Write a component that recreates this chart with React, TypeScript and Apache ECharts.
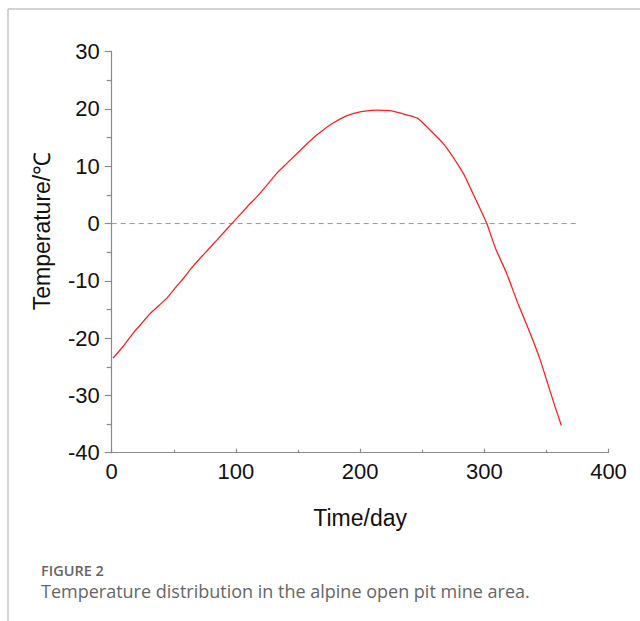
import React, { useEffect, useRef } from "react";
import * as echarts from "echarts";

const days = [1, 9, 17, 23, 31, 44, 52, 58, 63, 71, 77, 85, 98, 109, 117, 125, 133, 141, 152, 162, 170, 178, 189, 200, 213, 224, 232, 246, 256, 268, 283, 289, 297, 302, 309, 318, 327, 337, 345, 351, 357, 362];
const temps = [-23.5, -21.5, -19.2, -17.7, -15.7, -13.1, -11.0, -9.5, -8.1, -6.1, -4.7, -2.8, 0.3, 2.9, 4.7, 6.7, 8.8, 10.5, 12.8, 14.9, 16.3, 17.5, 18.8, 19.5, 19.8, 19.7, 19.3, 18.4, 16.4, 13.7, 8.8, 6.1, 2.4, 0.0, -4.3, -8.7, -13.9, -19.2, -23.8, -27.9, -32.0, -35.2];
const zeroLineX = [0, 374];
const zeroLineY = [0, 0];

const xTicks = { min: 0, max: 400, interval: 100 };
const yTicks = { min: -40, max: 30, interval: 10 };

const yAxisTitle = "Temperature/℃";
const xAxisTitle = "Time/day";
const figureLabel = "FIGURE 2";
const captionText = "Temperature distribution in the alpine open pit mine area.";

export default function App() {
  const ref = useRef<HTMLDivElement>(null);
  useEffect(() => {
    if (!ref.current) return;
    const chart = echarts.init(ref.current, null, { renderer: "svg" });
    const axisColor = "#8a8a8a";
    const labelFont = { color: "#111", fontSize: 22, fontFamily: "Liberation Sans, Arial, sans-serif" };
    chart.setOption({
      animation: false,
      backgroundColor: "#fff",
      grid: { left: 111.7, right: 31.5, top: 51.7, bottom: 168.3, containLabel: false },
      xAxis: {
        type: "value",
        min: xTicks.min,
        max: xTicks.max,
        interval: xTicks.interval,
        name: xAxisTitle,
        nameLocation: "middle",
        nameGap: 54,
        nameTextStyle: { ...labelFont, fontSize: 23 },
        axisLine: { show: true, onZero: false, lineStyle: { color: axisColor, width: 1.2 } },
        axisTick: { show: true, inside: true, length: 4, lineStyle: { color: axisColor, width: 1.2 } },
        minorTick: { show: true, splitNumber: 2, length: 3, lineStyle: { color: axisColor, width: 1.2 } },
        axisLabel: { ...labelFont, margin: 8 },
        splitLine: { show: false },
      },
      yAxis: {
        type: "value",
        min: yTicks.min,
        max: yTicks.max,
        interval: yTicks.interval,
        axisLine: { show: true, onZero: false, lineStyle: { color: axisColor, width: 1.2 } },
        axisTick: { show: true, inside: false, length: 7, lineStyle: { color: axisColor, width: 1.2 } },
        minorTick: { show: true, splitNumber: 2, length: 5, lineStyle: { color: axisColor, width: 1.2 } },
        axisLabel: { ...labelFont, margin: 12 },
        splitLine: { show: false },
      },
      series: [
        {
          type: "line",
          data: zeroLineX.map((x, i) => [x, zeroLineY[i]]),
          showSymbol: false,
          symbol: "none",
          lineStyle: { color: "#999", width: 1, type: [5, 4] },
          silent: true,
          z: 1,
        },
        {
          type: "line",
          data: days.map((d, i) => [d, temps[i]]),
          showSymbol: false,
          symbol: "none",
          smooth: 0.2,
          lineStyle: { color: "#ff2020", width: 1.3 },
          z: 2,
        },
      ],
      graphic: [
        { type: "line", shape: { x1: 8, y1: 9, x2: 640, y2: 9 }, style: { stroke: "#c4c4c4", lineWidth: 1.5 } },
        { type: "line", shape: { x1: 8, y1: 9, x2: 8, y2: 621 }, style: { stroke: "#c4c4c4", lineWidth: 1.5 } },
        {
          type: "text",
          x: 42,
          y: 231,
          rotation: Math.PI / 2,
          style: {
            text: yAxisTitle,
            fill: "#111",
            fontSize: 23,
            fontFamily: "Liberation Sans, Arial, sans-serif",
            align: "center",
            verticalAlign: "middle",
          },
        },
        {
          type: "text",
          x: 41,
          y: 570.5,
          style: {
            text: figureLabel,
            fill: "#666",
            fontSize: 14.5,
            lineHeight: 14,
            fontWeight: 600,
            fontFamily: "Open Sans, sans-serif",
            verticalAlign: "middle",
          },
        },
        {
          type: "text",
          x: 41,
          y: 590.5,
          style: {
            text: captionText,
            fill: "#666",
            fontSize: 18,
            lineHeight: 18,
            fontFamily: "Open Sans, sans-serif",
            verticalAlign: "middle",
          },
        },
      ],
    });
    return () => chart.dispose();
  }, []);
  return <div ref={ref} style={{ position: "fixed", left: 0, top: 0, width: 640, height: 621 }} />;
}
